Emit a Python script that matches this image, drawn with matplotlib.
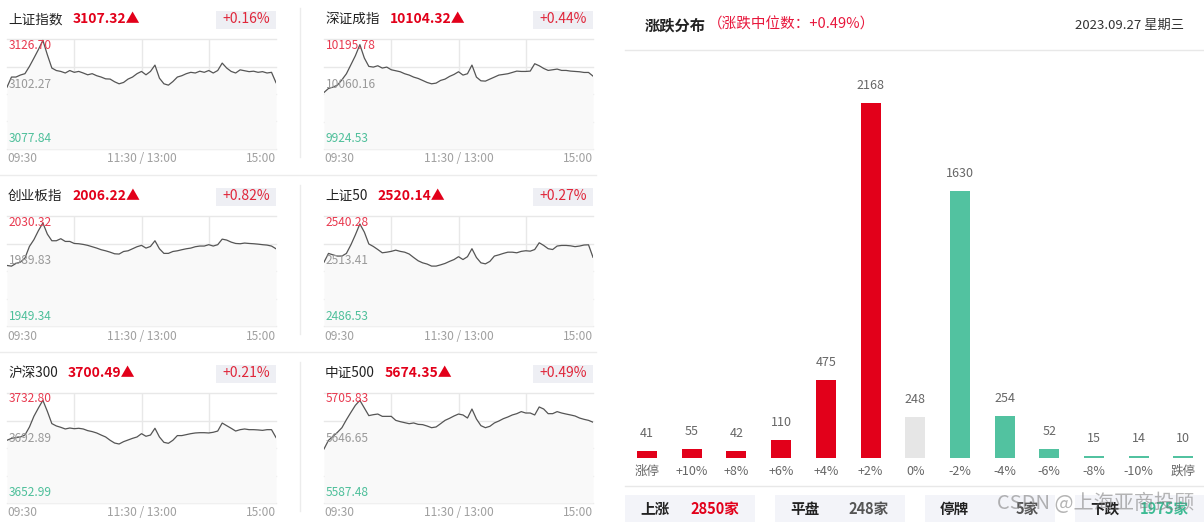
import matplotlib
matplotlib.use("Agg")
import matplotlib.pyplot as plt
from matplotlib.patches import Rectangle
from matplotlib.lines import Line2D

plt.rcParams['font.family'] = ['Noto Sans CJK SC', 'DejaVu Sans']

W, H = 1204, 522

# ---- 指数分时数据 ----
index_names = ['上证指数', '深证成指', '创业板指', '上证50', '沪深300', '中证500']
index_last = ['3107.32', '10104.32', '2006.22', '2520.14', '3700.49', '5674.35']
index_pct = ['+0.16%', '+0.44%', '+0.82%', '+0.27%', '+0.21%', '+0.49%']
index_high = [3126.70, 10195.78, 2030.32, 2540.28, 3732.80, 5705.83]
index_mid = [3102.27, 10060.16, 1989.83, 2513.41, 3692.89, 5646.65]
index_low = [3077.84, 9924.53, 1949.34, 2486.53, 3652.99, 5587.48]
time_labels = ['09:30', '11:30 / 13:00', '15:00']
minutes = list(range(0, 241, 4))

sh_index = [3105.3, 3109.8, 3109.8, 3110.7, 3111.3, 3114.5, 3118.2, 3122.0, 3126.1, 3119.7,
            3113.8, 3112.7, 3112.3, 3111.6, 3112.7, 3111.9, 3112.3, 3111.6, 3110.8, 3111.3,
            3110.4, 3109.8, 3109.0, 3108.9, 3107.7, 3106.8, 3107.4, 3108.9, 3109.8, 3111.3,
            3112.3, 3110.8, 3112.3, 3115.1, 3109.3, 3106.8, 3106.2, 3107.8, 3109.8, 3110.4,
            3111.3, 3111.9, 3111.6, 3112.4, 3111.9, 3112.7, 3111.6, 3112.7, 3116.0, 3113.8,
            3112.3, 3111.6, 3113.0, 3112.6, 3112.2, 3112.4, 3111.9, 3112.2, 3111.6, 3111.9,
            3107.3]
sz_index = [10063.9, 10073.8, 10077.1, 10082.0, 10095.2, 10110.1, 10132.3, 10154.6, 10181.8, 10148.8,
            10128.2, 10126.5, 10129.8, 10124.1, 10126.5, 10119.9, 10117.5, 10115.0, 10110.1, 10106.8,
            10101.8, 10098.5, 10093.6, 10088.6, 10085.3, 10087.0, 10093.6, 10096.9, 10103.5, 10108.4,
            10115.0, 10106.8, 10110.1, 10131.5, 10101.8, 10092.7, 10091.9, 10096.9, 10101.8, 10106.8,
            10108.4, 10110.1, 10113.3, 10116.6, 10115.8, 10115.8, 10116.6, 10134.8, 10129.8, 10123.2,
            10118.3, 10119.9, 10121.6, 10118.3, 10118.3, 10116.6, 10115.8, 10115.0, 10113.3, 10113.3,
            10104.3]
cyb_index = [1993.9, 1993.4, 1995.4, 1996.4, 1999.3, 2007.9, 2012.9, 2019.5, 2025.2, 2017.0,
             2012.1, 2012.1, 2013.6, 2011.6, 2011.6, 2010.1, 2009.9, 2009.4, 2008.7, 2007.7,
             2006.7, 2005.5, 2004.7, 2003.7, 2002.5, 2002.3, 2004.2, 2004.7, 2006.2, 2007.7,
             2008.7, 2006.7, 2007.9, 2012.1, 2006.2, 2002.8, 2002.8, 2004.2, 2004.7, 2005.5,
             2006.2, 2006.7, 2007.7, 2008.2, 2008.2, 2009.2, 2008.2, 2009.2, 2013.3, 2012.6,
             2011.1, 2010.1, 2009.9, 2010.4, 2010.1, 2009.9, 2009.6, 2009.2, 2008.9, 2008.2,
             2006.2]
sz50_index = [2517.7, 2522.0, 2521.3, 2520.7, 2520.7, 2522.0, 2526.2, 2531.1, 2536.4, 2532.4,
              2526.6, 2525.4, 2523.9, 2522.3, 2522.6, 2523.0, 2523.6, 2523.0, 2522.6, 2521.7,
              2520.0, 2518.4, 2517.4, 2516.8, 2515.8, 2515.8, 2516.4, 2517.1, 2518.1, 2519.0,
              2520.4, 2519.0, 2520.4, 2524.3, 2520.0, 2517.4, 2516.9, 2518.1, 2520.7, 2521.3,
              2522.0, 2522.6, 2522.6, 2522.3, 2523.0, 2523.3, 2523.1, 2523.9, 2527.2, 2525.9,
              2524.3, 2523.9, 2525.6, 2525.9, 2525.9, 2525.7, 2525.3, 2525.6, 2526.1, 2526.2,
              2520.1]
hs300_index = [3698.5, 3699.9, 3700.4, 3700.9, 3702.3, 3708.1, 3715.9, 3721.9, 3727.5, 3719.5,
               3710.6, 3708.9, 3707.9, 3706.7, 3707.4, 3706.9, 3707.2, 3706.7, 3705.5, 3704.8,
               3703.8, 3702.3, 3700.9, 3698.5, 3696.5, 3695.8, 3697.5, 3698.7, 3699.9, 3700.9,
               3703.3, 3701.4, 3702.3, 3707.2, 3700.9, 3697.0, 3696.3, 3698.5, 3701.9, 3701.9,
               3702.6, 3703.3, 3703.8, 3704.0, 3704.0, 3703.8, 3704.3, 3705.2, 3711.0, 3709.1,
               3707.2, 3705.2, 3706.2, 3706.7, 3706.2, 3706.2, 3706.0, 3705.7, 3706.2, 3706.2,
               3700.5]
zz500_index = [5645.6, 5654.9, 5659.2, 5663.5, 5668.5, 5677.1, 5685.0, 5692.6, 5697.9, 5689.7,
               5681.5, 5682.5, 5683.2, 5680.7, 5680.7, 5680.7, 5676.4, 5675.0, 5673.9, 5672.8,
               5673.6, 5672.1, 5671.8, 5670.3, 5668.5, 5669.3, 5672.8, 5676.4, 5678.6, 5681.1,
               5683.2, 5682.2, 5678.9, 5688.6, 5677.9, 5670.7, 5668.5, 5670.0, 5673.6, 5675.7,
               5678.2, 5680.0, 5682.2, 5683.6, 5685.8, 5684.3, 5684.3, 5682.2, 5690.8, 5688.6,
               5683.6, 5683.6, 5685.8, 5684.3, 5683.2, 5682.2, 5681.1, 5678.9, 5677.5, 5676.4,
               5674.4]
index_series = [sh_index, sz_index, cyb_index, sz50_index, hs300_index, zz500_index]

# ---- 涨跌分布 ----
dist_labels = ['涨停', '+10%', '+8%', '+6%', '+4%', '+2%', '0%', '-2%', '-4%', '-6%', '-8%', '-10%', '跌停']
dist_counts = [41, 55, 42, 110, 475, 2168, 248, 1630, 254, 52, 15, 14, 10]
stat_labels = ['上涨', '平盘', '停牌', '下跌']
stat_values = ['2850', '248', '5', '1975']

RED = '#e2001a'
GREEN = '#52c2a0'

fig = plt.figure(figsize=(W / 100, H / 100), dpi=100)
fig.patch.set_facecolor('white')


def add_ax(x0, y0, x1, y1):
    return fig.add_axes([x0 / W, 1 - y1 / H, (x1 - x0) / W, (y1 - y0) / H])


def ftext(x, y, s, **kw):
    kw.setdefault('va', 'center')
    return fig.text(x / W, 1 - y / H, s, **kw)


def fline(x0, y0, x1, y1, color='#ececec'):
    fig.add_artist(Line2D([x0 / W, x1 / W], [1 - y0 / H, 1 - y1 / H], color=color, lw=1))


renderer = fig.canvas.get_renderer()

col_left = [7, 324]
col_right = [276, 593]
row_top = [39, 216, 393]
ch = 110

for i, name in enumerate(index_names):
    r, c = i // 2, i % 2
    L, R, T = col_left[c], col_right[c], row_top[r]
    lo, hi = index_low[i], index_high[i]
    ax = add_ax(L, T, R, T + ch)
    ax.set_xlim(0, 240)
    ax.set_ylim(lo, hi)
    ax.set_axis_off()
    for q in [0, 0.25, 0.5, 0.75, 1]:
        ax.axhline(lo + q * (hi - lo), color='#e8e8e8', lw=1, clip_on=False, zorder=0)
    for m in [60, 120, 180]:
        ax.axvline(m, color='#e8e8e8', lw=1, zorder=0)
    ax.fill_between(minutes, index_series[i], lo, color='#f9f9f9', lw=0, zorder=1)
    ax.plot(minutes, index_series[i], color='#555555', lw=0.9, zorder=3)

    # 标题行
    ty = T - 20
    t = ftext(L + 1, ty, name, fontsize=9.8, color='#222222')
    bb = t.get_window_extent(renderer)
    ftext(bb.x1 + 10, ty, index_last[i] + '▲', fontsize=10, fontweight='bold', color=RED)
    fig.add_artist(Rectangle(((R - 60) / W, 1 - (T - 10) / H), 60 / W, 18 / H,
                             transform=fig.transFigure, facecolor='#eeeff4', edgecolor='none'))
    ftext(R - 30, ty, index_pct[i], ha='center', fontsize=10, color='#e0263a')

    # 轴内标注
    ftext(L + 2, T + 6, f'{hi:.2f}', fontsize=8.6, color='#e8394f')
    ftext(L + 2, T + ch / 2 - 10, f'{index_mid[i]:.2f}', fontsize=8.6, color='#999999')
    ftext(L + 2, T + ch - 10, f'{lo:.2f}', fontsize=8.6, color='#4dbf9a')

    xy = T + ch + 10
    ftext(L, xy, time_labels[0], ha='left', fontsize=8.6, color='#a0a0a0')
    ftext((L + R) / 2, xy, time_labels[1], ha='center', fontsize=8.6, color='#a0a0a0')
    ftext(R, xy, time_labels[2], ha='right', fontsize=8.6, color='#a0a0a0')

    if c == 0:
        fline(300, T - 31, 300, T + ch + 8)

fline(0, 175, 596, 175)
fline(0, 352, 596, 352)

# ---- 右侧 涨跌分布 ----
ftext(645, 25, '涨跌分布', fontsize=11, fontweight='bold', color='#222222')
ftext(708, 25, '（涨跌中位数：+0.49%）', fontsize=10.5, color='#e8173c')
ftext(1184, 25, '2023.09.27 星期三', ha='right', fontsize=9.5, color='#333333')
fline(625, 50, 1204, 50, color='#e8e8e8')
fline(625, 486, 1204, 486, color='#e8e8e8')

px_per_unit = 0.1637
bar_c0, bar_pitch = 647, 44.7
bx0, bx1, by0, by1 = 624, 1204, 60, 458
bax = add_ax(bx0, by0, bx1, by1)
bax.set_xlim((bx0 - bar_c0) / bar_pitch, (bx1 - bar_c0) / bar_pitch)
bax.set_ylim(0, (by1 - by0) / px_per_unit)
colors = [RED if k < 6 else ('#e6e6e6' if k == 6 else GREEN) for k in range(len(dist_counts))]
xs = list(range(len(dist_counts)))
bax.bar(xs, dist_counts, width=20 / bar_pitch, color=colors)
for k, v in enumerate(dist_counts):
    bax.annotate(str(v), (k, v), xytext=(0, 12.6), textcoords='offset points',
                 ha='center', va='center', fontsize=9, color='#666666')
bax.set_xticks(xs, dist_labels)
bax.tick_params(axis='x', length=0, pad=5, labelsize=9, labelcolor='#666666')
bax.set_yticks([])
for s in bax.spines.values():
    s.set_visible(False)

stat_colors = [RED, '#555555', '#555555', '#3dbb94']
for j, lab in enumerate(stat_labels):
    x0 = 625 + 150 * j
    x1 = x0 + 130
    fig.add_artist(Rectangle((x0 / W, 0), 130 / W, 1 - 495 / H,
                             transform=fig.transFigure, facecolor='#f3f4f9', edgecolor='none'))
    ftext(x0 + 15, 509, lab, fontsize=10.5, fontweight='bold', color='#222222')
    ftext(x1 - 16, 509, stat_values[j] + '家', ha='right', fontsize=10.5,
          fontweight='bold', color=stat_colors[j])

ftext(997, 503, 'CSDN @上海亚商投顾', fontsize=14.5, color='#777777', alpha=0.55)

fig.savefig('out.png', dpi=100, facecolor='white')
